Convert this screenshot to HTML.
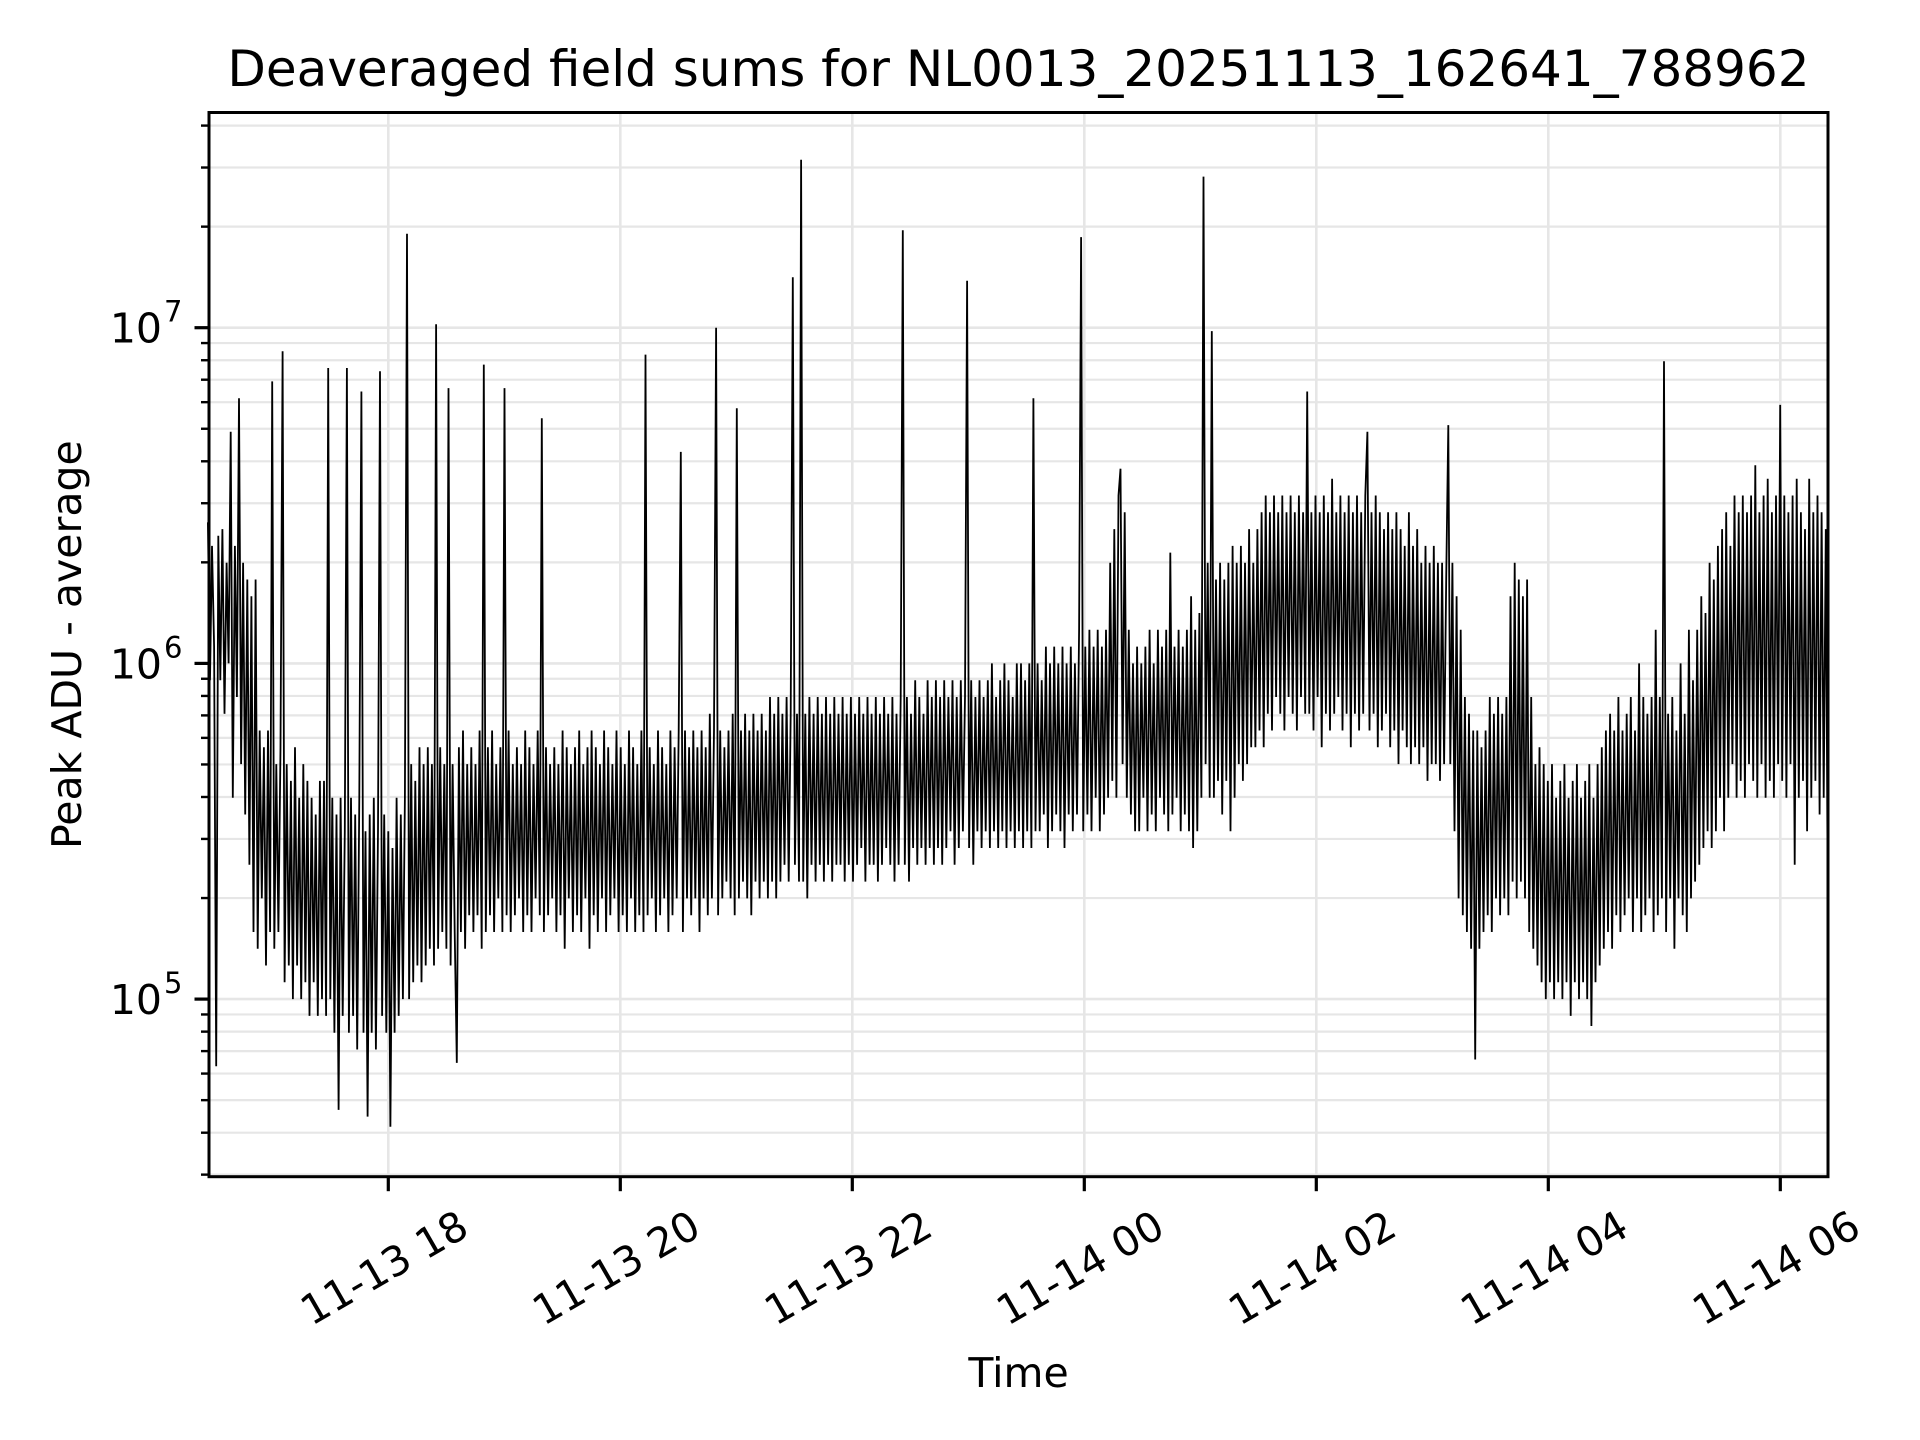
<!DOCTYPE html>
<html>
<head>
<meta charset="utf-8">
<style>
  html, body { margin: 0; padding: 0; background: #ffffff; }
  svg { display: block; font-family: "DejaVu Sans", "Liberation Sans", sans-serif; }
</style>
</head>
<body>
<svg id="chart" width="1920" height="1440" viewBox="0 0 1920 1440" xmlns="http://www.w3.org/2000/svg">
  <rect x="0" y="0" width="1920" height="1440" fill="#ffffff"/>
  <text x="1018.5" y="86" font-size="50" text-anchor="middle" fill="#000">Deaveraged field sums for NL0013_20251113_162641_788962</text>
  <g id="grid"></g>
  <g id="series"></g>
  <rect x="209" y="112.5" width="1619" height="1064.2" fill="none" stroke="#000" stroke-width="3"/>
  <g id="yticks"></g>
  <g id="xticks"></g>
  <text x="1018.5" y="1387" font-size="41" text-anchor="middle" fill="#000">Time</text>
  <text x="0" y="0" font-size="41" text-anchor="middle" fill="#000" transform="translate(81,644.6) rotate(-90)">Peak ADU - average</text>
</svg>
<script>
// ---- data (hours since 11-13 00:00, log10 of Peak ADU - average) ----
const startHour = 16.4447;
const endHour = 30.41;
const logPeakADU = [
6.42,5.95,6.35,6.05,4.80,6.38,5.95,6.40,5.85,6.30,6.0,6.69,5.6,6.35,5.9,6.79,5.7,6.3,5.55,6.25,5.4,6.2,5.2,6.25,5.15,5.8,5.3,5.75,5.1,5.8,5.2,6.84,5.15,5.7,5.2,5.75,6.93,5.05,5.7,5.1,5.65,5.0,5.75,5.1,5.6,5.0,5.7,5.05,5.65,4.95,5.6,5.05,5.55,4.95,5.65,5.0,
5.65,4.95,6.88,5.0,5.6,4.9,5.55,4.67,5.6,4.95,5.5,6.88,4.9,5.6,4.95,5.55,4.85,5.6,6.81,4.9,5.5,4.65,5.55,4.9,5.6,4.85,5.5,6.87,4.95,5.55,4.9,5.5,4.62,5.45,4.9,5.6,4.95,5.55,5.0,5.6,7.28,5.0,5.7,5.05,5.65,5.1,5.75,5.05,5.7,5.1,5.75,5.15,5.7,5.1,7.01,5.15,
5.75,5.2,5.7,5.15,6.82,5.1,5.7,5.2,4.81,5.75,5.2,5.8,5.15,5.7,5.25,5.75,5.2,5.7,5.25,5.8,5.15,6.89,5.2,5.75,5.25,5.8,5.2,5.7,5.3,5.75,5.2,6.82,5.25,5.8,5.2,5.7,5.25,5.75,5.3,5.7,5.2,5.8,5.25,5.75,5.2,5.7,5.3,5.8,5.25,6.73,5.2,5.75,5.25,5.7,5.3,5.75,
5.2,5.7,5.25,5.8,5.15,5.75,5.3,5.7,5.2,5.75,5.25,5.8,5.2,5.7,5.3,5.75,5.15,5.8,5.25,5.75,5.2,5.7,5.3,5.8,5.2,5.75,5.25,5.7,5.3,5.8,5.2,5.75,5.25,5.7,5.2,5.8,5.3,5.75,5.2,5.7,5.25,5.8,5.2,6.92,5.25,5.75,5.3,5.7,5.2,5.8,5.25,5.75,5.3,5.7,5.2,5.8,
5.25,5.75,5.3,5.8,6.63,5.2,5.8,5.3,5.75,5.25,5.8,5.3,5.75,5.2,5.8,5.3,5.75,5.25,5.85,5.3,5.8,7.0,5.25,5.8,5.3,5.75,5.35,5.8,5.3,5.85,5.25,6.76,5.3,5.8,5.35,5.85,5.3,5.8,5.25,5.85,5.35,5.8,5.3,5.85,5.35,5.8,5.3,5.9,5.35,5.85,5.3,5.9,5.35,5.85,5.4,5.9,
5.35,5.85,7.15,5.4,5.85,5.35,7.5,5.35,5.85,5.3,5.9,5.4,5.85,5.35,5.9,5.4,5.85,5.35,5.9,5.4,5.85,5.35,5.9,5.4,5.85,5.4,5.9,5.35,5.85,5.4,5.9,5.35,5.85,5.4,5.9,5.45,5.85,5.35,5.9,5.4,5.85,5.4,5.9,5.35,5.85,5.4,5.9,5.45,5.85,5.4,5.9,5.35,5.85,5.4,5.9,7.29,
5.4,5.9,5.35,5.85,5.45,5.95,5.4,5.9,5.45,5.85,5.4,5.95,5.45,5.9,5.4,5.95,5.45,5.9,5.4,5.95,5.45,5.9,5.5,5.95,5.4,5.9,5.45,5.95,5.5,5.9,7.14,5.45,5.95,5.4,5.9,5.5,5.95,5.45,5.9,5.5,5.95,5.45,6.0,5.5,5.9,5.45,5.95,5.5,6.0,5.45,5.95,5.5,5.9,5.45,6.0,5.5,
6.0,5.45,5.95,5.5,6.0,5.45,6.79,5.5,6.0,5.5,5.95,5.55,6.05,5.45,6.0,5.5,6.05,5.55,6.0,5.5,6.05,5.45,6.0,5.55,6.05,5.5,6.0,5.55,6.1,7.27,5.5,6.05,5.55,6.1,5.5,6.05,5.6,6.1,5.5,6.05,5.55,6.1,5.6,6.3,5.65,6.4,5.6,6.5,6.58,5.7,6.45,5.6,6.1,5.55,6.0,5.5,
6.05,5.5,6.0,5.6,6.05,5.5,6.1,5.55,6.0,5.5,6.1,5.6,6.05,5.55,6.1,5.5,6.33,5.55,6.05,5.6,6.1,5.5,6.05,5.55,6.1,5.5,6.2,5.45,6.1,5.5,6.15,5.6,7.45,5.7,6.3,5.6,6.99,5.6,6.25,5.65,6.3,5.55,6.25,5.65,6.3,5.5,6.35,5.6,6.3,5.7,6.35,5.65,6.3,5.7,6.4,5.75,
6.3,5.75,6.4,5.8,6.45,5.75,6.5,5.85,6.45,5.8,6.5,5.9,6.45,5.85,6.5,5.8,6.45,5.9,6.5,5.85,6.45,5.8,6.5,5.9,6.45,5.85,6.81,5.85,6.45,5.8,6.5,5.9,6.45,5.75,6.5,5.85,6.45,5.8,6.55,5.85,6.45,5.9,6.5,5.8,6.45,5.85,6.5,5.75,6.45,5.85,6.5,5.8,6.45,5.85,6.5,6.69,
5.8,6.45,5.85,6.5,5.75,6.45,5.8,6.4,5.85,6.45,5.75,6.4,5.8,6.45,5.7,6.4,5.8,6.35,5.75,6.45,5.7,6.35,5.75,6.4,5.7,6.3,5.75,6.35,5.65,6.3,5.7,6.35,5.7,6.3,5.65,6.3,5.7,6.25,6.71,5.7,6.3,5.5,6.2,5.3,6.1,5.25,5.9,5.2,5.85,5.15,5.8,4.82,5.8,5.15,5.75,5.2,
5.8,5.25,5.9,5.2,5.85,5.3,5.9,5.25,5.85,5.3,5.9,5.25,6.2,5.35,6.3,5.3,6.25,5.35,6.2,5.3,6.25,5.2,5.9,5.15,5.7,5.1,5.75,5.05,5.7,5.0,5.65,5.05,5.7,5.0,5.6,5.05,5.65,5.0,5.7,5.05,5.6,4.95,5.65,5.05,5.7,5.0,5.6,5.05,5.65,5.0,5.7,4.92,5.6,5.05,5.7,5.1,
5.75,5.15,5.8,5.2,5.85,5.15,5.8,5.25,5.9,5.2,5.8,5.25,5.85,5.3,5.9,5.2,5.8,5.3,6.0,5.2,5.9,5.25,5.85,5.3,5.9,5.2,6.1,5.25,5.9,5.3,6.9,5.2,5.85,5.3,5.9,5.15,5.8,5.3,6.0,5.25,5.85,5.2,6.1,5.3,5.95,5.35,6.1,5.4,6.2,5.45,6.15,5.5,6.3,5.45,6.25,5.5,
6.35,5.6,6.4,5.5,6.45,5.6,6.35,5.7,6.5,5.6,6.45,5.65,6.5,5.6,6.45,5.7,6.5,5.65,6.59,5.6,6.45,5.7,6.5,5.6,6.55,5.65,6.45,5.6,6.5,5.7,6.77,5.65,6.5,5.6,6.45,5.7,6.5,5.4,6.55,5.6,6.45,5.65,6.4,5.5,6.55,5.6,6.45,5.65,6.5,5.55,6.45,5.6,6.4,5.2
];
const xTickHours = [18, 20, 22, 24, 26, 28, 30];
const xTickLabels = ["11-13 18", "11-13 20", "11-13 22", "11-14 00", "11-14 02", "11-14 04", "11-14 06"];
const yMajorExps = [5, 6, 7];
const yMinorMults = [2, 3, 4, 5, 6, 7, 8, 9];
const yMinorDecades = [4, 5, 6, 7];

// ---- axes ----
const NS = "http://www.w3.org/2000/svg";
const plotLeft = 209, plotRight = 1828, plotTop = 112.5, plotBottom = 1176.7;
function xScale(h) { return 388.3 + (h - 18) * 116; }
function yScale(lg) { return 327.7 - (lg - 7) * 335.7; }
function mk(tag, attrs, parent) {
  const e = document.createElementNS(NS, tag);
  for (const k in attrs) e.setAttribute(k, attrs[k]);
  parent.appendChild(e);
  return e;
}
const grid = document.getElementById("grid");
const yt = document.getElementById("yticks");
const xt = document.getElementById("xticks");
const series = document.getElementById("series");

yMinorDecades.forEach(d => {
  yMinorMults.forEach(m => {
    const lg = d + Math.log10(m);
    const y = yScale(lg);
    if (y < plotTop || y > plotBottom) return;
    const g = mk("line", {x1: plotLeft, x2: plotRight, y1: y, y2: y, stroke: "#e6e6e6", "stroke-width": 2.2}, grid);
    
    
    const t = mk("line", {x1: plotLeft - 8, x2: plotLeft, y1: y, y2: y, stroke: "#000", "stroke-width": 2.4}, yt);
    
    
  });
});
yMajorExps.forEach(e => {
  const y = yScale(e);
  const g = mk("line", {x1: plotLeft, x2: plotRight, y1: y, y2: y, stroke: "#e6e6e6", "stroke-width": 2.6}, grid);
  
  
  const t = mk("line", {x1: plotLeft - 14.5, x2: plotLeft, y1: y, y2: y, stroke: "#000", "stroke-width": 3.2}, yt);
  
  
  const lab = mk("text", {x: 162, y: y + 15, "font-size": 41, "text-anchor": "end", fill: "#000"}, yt);
  lab.textContent = "10";
  
  
  const sup = mk("text", {x: 164, y: y - 6, "font-size": 29, "text-anchor": "start", fill: "#000"}, yt);
  sup.textContent = String(e);
  
  
});
xTickHours.forEach((h, i) => {
  const x = xScale(h);
  const g = mk("line", {x1: x, x2: x, y1: plotTop, y2: plotBottom, stroke: "#e6e6e6", "stroke-width": 2.6}, grid);
  
  
  const t = mk("line", {x1: x, x2: x, y1: plotBottom, y2: plotBottom + 14.5, stroke: "#000", "stroke-width": 3.2}, xt);
  
  
  const lab = mk("text", {x: 0, y: 0, "font-size": 41, "text-anchor": "middle", "dominant-baseline": "central", fill: "#000",
    transform: "translate(" + (x - 4) + ",1268) rotate(-30)"}, xt);
  lab.textContent = xTickLabels[i];
  
  
});
const n = logPeakADU.length;
const step = (endHour - startHour) / (n - 1);
let d = "";
logPeakADU.forEach((v, i) => {
  const x = xScale(startHour + i * step);
  const y = yScale(v);
  d += (i === 0 ? "M" : "L") + x.toFixed(1) + " " + y.toFixed(1);
});
const path = mk("path", {d: d, fill: "none", stroke: "#000", "stroke-width": 1.8, "stroke-linejoin": "miter"}, series);


</script>
</body>
</html>
